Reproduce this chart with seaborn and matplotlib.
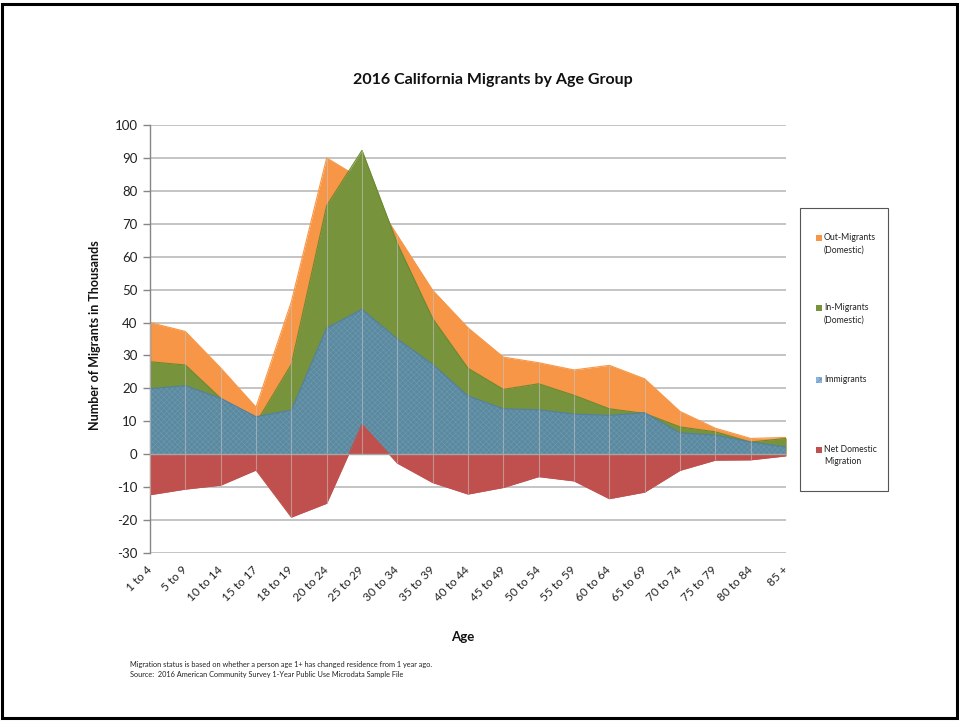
import numpy as np
import pandas as pd
import matplotlib
matplotlib.use('Agg')
import matplotlib.pyplot as plt
import matplotlib.transforms as mtransforms
from matplotlib.patches import Rectangle
import seaborn as sns

# data (thousands)
age_groups = ['1 to 4', '5 to 9', '10 to 14', '15 to 17', '18 to 19', '20 to 24', '25 to 29',
              '30 to 34', '35 to 39', '40 to 44', '45 to 49', '50 to 54', '55 to 59', '60 to 64',
              '65 to 69', '70 to 74', '75 to 79', '80 to 84', '85 +']
out_migrants = [40.0, 37.3, 26.2, 14.3, 46.3, 90.0, 83.5, 66.5, 49.8, 38.4, 29.5, 27.8, 25.6, 27.0,
                22.9, 13.0, 7.9, 4.8, 5.1]
in_migrants = [28.1, 27.1, 17.0, 9.5, 27.3, 75.5, 92.3, 64.0, 41.2, 26.1, 19.7, 21.4, 17.9, 13.8,
               12.4, 8.3, 6.8, 3.7, 4.8]
immigrants = [19.9, 20.8, 17.0, 11.4, 13.4, 38.3, 44.0, 35.0, 27.3, 17.7, 13.8, 13.5, 12.2, 11.8,
              12.6, 6.5, 5.8, 3.7, 2.2]
net_domestic = [-12.3, -10.6, -9.4, -4.8, -19.1, -14.9, 9.1, -2.7, -8.6, -12.1, -10.1, -6.8, -8.1,
                -13.5, -11.5, -4.9, -1.8, -1.7, -0.5]

series_names = ['Out-Migrants\n(Domestic)', 'In-Migrants\n(Domestic)', 'Immigrants', 'Net Domestic\nMigration']
colors = ['#F79646', '#77933C', '#5B8A9F', '#C0504D']
edge_colors = ['#F79646', '#6A8A30', '#5480A0', '#C0504D']

df = pd.DataFrame({'age': age_groups, 'pos': np.arange(len(age_groups)),
                   series_names[0]: out_migrants, series_names[1]: in_migrants,
                   series_names[2]: immigrants, series_names[3]: net_domestic})

sns.set_theme(style='white')
plt.rcParams['font.family'] = ['Lato', 'DejaVu Sans']
plt.rcParams['hatch.linewidth'] = 0.35

fig = plt.figure(figsize=(9.59, 7.21), dpi=100)
ax = fig.add_axes([150 / 959, 1 - 553 / 721, 636 / 959, 428 / 721])

# grid behind the areas
yticks = np.arange(-30, 101, 10)
for y in yticks:
    ax.axhline(y, color='#BFBFBF', lw=1.3, zorder=0)

for i, name in enumerate(series_names):
    if name == 'Immigrants':
        ax.fill_between(df['pos'], 0, df[name], facecolor=colors[i], hatch='xxxxxx',
                        edgecolor='#6F9AB4', linewidth=0, zorder=1 + i)
    else:
        ax.fill_between(df['pos'], 0, df[name], color=colors[i], linewidth=0, zorder=1 + i)
    sns.lineplot(x='pos', y=name, data=df, ax=ax, color=edge_colors[i], lw=0.8,
                 zorder=1.5 + i, legend=False)

# drop lines at each category
top = np.maximum(df[series_names[0]], df[series_names[1]])
bottom = np.minimum(df[series_names[3]], 0)
ax.vlines(df['pos'], bottom, top, color='#C8C8C8', lw=0.8, alpha=0.55, zorder=6)
ax.axhline(0, color='#A6A6A6', lw=1.0, zorder=6)

ax.set_xlim(0, len(age_groups) - 1)
ax.set_ylim(-30, 100)
ax.set_yticks(yticks)
ax.set_yticklabels([str(v) for v in yticks], fontsize=9.5, color='#222222')
ax.set_xticks(df['pos'])
ax.set_xticklabels(age_groups, rotation=45, ha='right', va='center', rotation_mode='anchor',
                   fontsize=8.5, color='#222222')
shift = mtransforms.ScaledTranslation(5 / 100, 0, fig.dpi_scale_trans)
for lab in ax.get_xticklabels():
    lab.set_transform(lab.get_transform() + shift)
ax.tick_params(axis='y', which='major', left=True, length=5, width=1, color='#868686', pad=4)
ax.tick_params(axis='x', length=0, pad=11)
for s in ['top', 'right', 'bottom']:
    ax.spines[s].set_visible(False)
ax.spines['left'].set_color('#868686')
ax.spines['left'].set_linewidth(1)
ax.set_xlabel('')
ax.set_ylabel('')

fig.text(493 / 959, 1 - 80 / 721, '2016 California Migrants by Age Group', ha='center', va='center',
         fontsize=11.5, fontweight='bold', color='#111111')
fig.text(95 / 959, 1 - 335 / 721, 'Number of Migrants in Thousands', ha='center', va='center',
         rotation=90, fontsize=9, fontweight='bold', color='#111111')
fig.text(463 / 959, 1 - 637 / 721, 'Age', ha='center', va='center', fontsize=9.5,
         fontweight='bold', color='#111111')
fig.text(130 / 959, 1 - 664 / 721,
         'Migration status is based on whether a person age 1+ has changed residence from 1 year ago.',
         ha='left', va='center', fontsize=5.3, color='#222222')
fig.text(130 / 959, 1 - 675 / 721,
         'Source:  2016 American Community Survey 1-Year Public Use Microdata Sample File',
         ha='left', va='center', fontsize=5.3, color='#222222')

# legend box, drawn by hand so the swatch sits on the first text line
fig.patches.append(Rectangle((800 / 959, 1 - 491 / 721), 88 / 959, 283 / 721,
                             transform=fig.transFigure, fill=False, edgecolor='#555555', lw=0.8))
legend_y = [238, 308, 380, 450]
for i, name in enumerate(series_names):
    y = 1 - legend_y[i] / 721
    if name == 'Immigrants':
        sw = Rectangle((816 / 959, y - 3 / 721), 6 / 959, 6 / 721, transform=fig.transFigure,
                       facecolor='#8DB3E2', hatch='xxxx', edgecolor='#5B8A9F', lw=0)
    else:
        sw = Rectangle((816 / 959, y - 3 / 721), 6 / 959, 6 / 721, transform=fig.transFigure,
                       facecolor=colors[i], lw=0)
    fig.patches.append(sw)
    fig.text(824 / 959, y + 5 / 721, name, ha='left', va='top', fontsize=6.2,
             color='#222222', linespacing=1.45)

# outer frame
fig.patches.append(Rectangle((2 / 959, 3 / 721), 955 / 959, 714 / 721, transform=fig.transFigure,
                             fill=False, edgecolor='black', lw=2.2))

fig.savefig('out.png', dpi=100)
